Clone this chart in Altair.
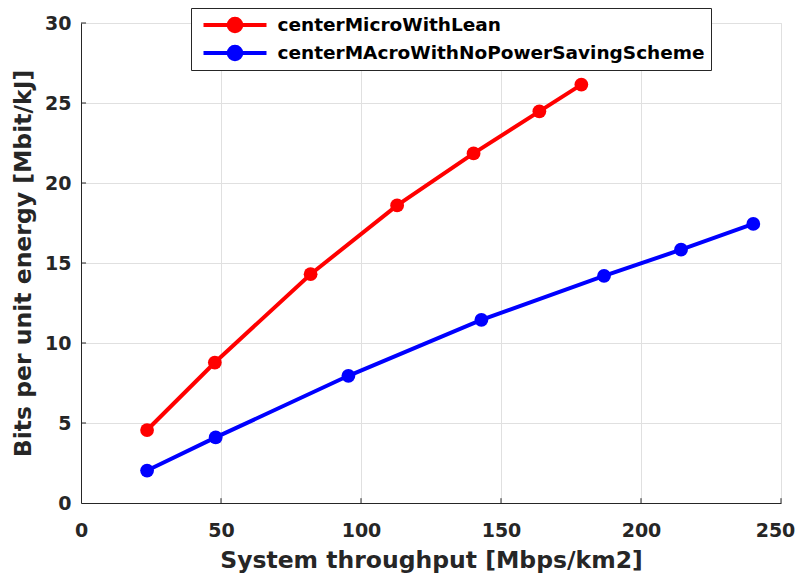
import altair as alt
import pandas as pd

series_names = ["centerMicroWithLean", "centerMAcroWithNoPowerSavingScheme"]
series_colors = ["#ff0000", "#0000ff"]

micro_x = [23.6, 47.8, 82.0, 112.9, 140.2, 163.7, 178.7]
micro_y = [4.56, 8.78, 14.3, 18.6, 21.85, 24.48, 26.15]
macro_x = [23.6, 48.1, 95.5, 143.0, 186.8, 214.3, 240.1]
macro_y = [2.03, 4.1, 7.95, 11.45, 14.2, 15.83, 17.44]

x_ticks = [0, 50, 100, 150, 200, 250]
y_ticks = [0, 5, 10, 15, 20, 25, 30]

rows = []
for name, xs, ys in [(series_names[0], micro_x, micro_y), (series_names[1], macro_x, macro_y)]:
    for i, (a, b) in enumerate(zip(xs, ys)):
        rows.append({"series": name, "x": a, "y": b, "order": i})
df = pd.DataFrame(rows)

FONT = "DejaVu Sans"
TXT = "#262626"
GRID = "#e0e0e0"

xscale = alt.Scale(domain=[0, 250], nice=False, zero=False)
yscale = alt.Scale(domain=[0, 30], nice=False, zero=False)

x_enc = alt.X("x:Q", scale=xscale, axis=alt.Axis(
    values=x_ticks, title="System throughput [Mbps/km2]", labelPadding=18,
    labelFlush=False, titleY=64, titleBaseline="alphabetic", format="d",
    labelOffset={"condition": {"test": "datum.value == 250", "value": -6}, "value": 0}))
y_enc = alt.Y("y:Q", scale=yscale, axis=alt.Axis(
    values=y_ticks, title="Bits per unit energy [Mbit/kJ]", labelPadding=10,
    titleX=-51, titleBaseline="alphabetic", format="d"))

SYM = "M-1,0L1,0M-0.2,0A0.2,0.2,0,1,0,0.2,0A0.2,0.2,0,1,0,-0.2,0Z"

legend = alt.Legend(
    title=None, orient="none", legendX=110, legendY=-15, direction="vertical",
    symbolType=SYM, symbolSize=3969, symbolStrokeWidth=4, symbolOffset=4.5,
    labelOffset=9, clipHeight=22, rowPadding=6, padding=6,
    labelFont=FONT, labelFontSize=18.5, labelFontWeight="bold", labelColor="#000000",
    labelLimit=700, strokeColor="#262626", fillColor="white")

color = alt.Color("series:N", scale=alt.Scale(domain=series_names, range=series_colors),
                  legend=legend)

lines = alt.Chart(df).mark_line(strokeWidth=4).encode(
    x=x_enc, y=y_enc, color=color, order="order:Q")
points = alt.Chart(df).mark_point(shape="circle", filled=True, size=190,
                                  opacity=1).encode(
    x=x_enc, y=y_enc, color=color)

xt = pd.DataFrame({"x": x_ticks[1:]})
yt = pd.DataFrame({"y": y_ticks[1:]})
xtick_rules = alt.Chart(xt).mark_rule(color=TXT, strokeWidth=1).encode(
    x=x_enc, y=alt.datum(0), y2=alt.datum(0.3))
ytick_rules = alt.Chart(yt).mark_rule(color=TXT, strokeWidth=1).encode(
    y=y_enc, x=alt.datum(0), x2=alt.datum(1.8))

chart = alt.layer(xtick_rules, ytick_rules, lines, points).properties(
    width=700, height=480,
    autosize=alt.AutoSizeParams(type="none"),
    padding={"left": 73, "top": 15, "right": 14, "bottom": 70},
    background="white",
).configure_axis(
    labelFont=FONT, labelFontSize=19, labelFontWeight="bold", labelColor=TXT,
    titleFont=FONT, titleFontSize=23.5, titleFontWeight="bold", titleColor=TXT,
    domainColor=TXT, domainWidth=1, tickSize=0, ticks=False,
    gridColor=GRID, gridWidth=1, grid=True,
).configure_view(stroke=GRID, strokeWidth=1)

chart.save("out.html", embed_options={"renderer": "svg", "actions": False})
